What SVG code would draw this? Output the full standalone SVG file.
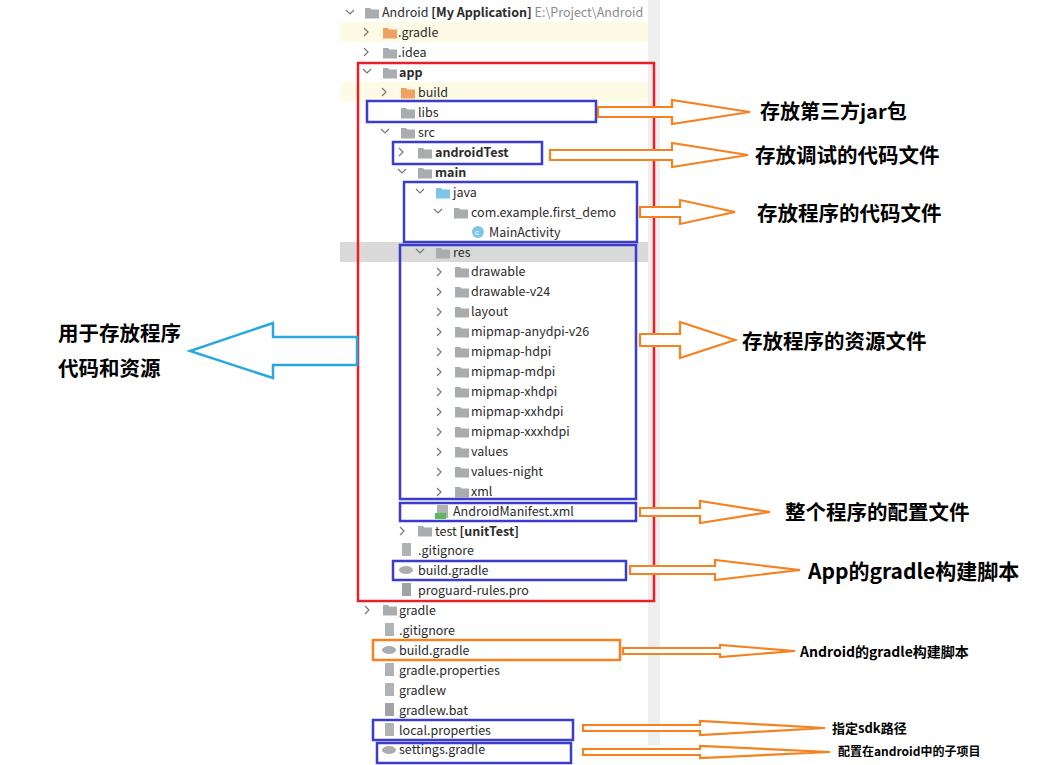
<svg xmlns="http://www.w3.org/2000/svg" xmlns:xlink="http://www.w3.org/1999/xlink" width="1057" height="765" viewBox="0 0 1057 765">
<style>
.t{font-family:"Noto Sans CJK SC","Noto Sans",sans-serif;font-size:12.5px;fill:#2b2b2b}
.b{font-weight:bold}
.g{fill:#8c8c8c}
.lab{font-family:"Noto Sans CJK SC",sans-serif;font-weight:bold;fill:#000}
.ch{fill:none;stroke:#777;stroke-width:1.2}
.blue{fill:none;stroke:#3b3bcc;stroke-width:2.5}
.oa{fill:#fff;stroke:#f5821f;stroke-width:2.2}
</style>
<defs>
<g id="f"><path d="M0,-5 h5 l1.5,1.5 h7.5 v9 h-14z" fill="#a9adb0"/></g>
<g id="fo"><path d="M0,-5 h5 l1.5,1.5 h7.5 v9 h-14z" fill="#f0a060"/></g>
<g id="fb"><path d="M0,-5 h5 l1.5,1.5 h7.5 v9 h-14z" fill="#7cc6e8"/></g>
<path id="cr" d="M-3,-4 l4,4 l-4,4" class="ch"/>
<path id="cd" d="M-4,-2 l4,4 l4,-4" class="ch"/>
</defs>
<rect width="1057" height="765" fill="#fff"/>
<rect x="340" y="22" width="315" height="20" fill="#fdfbe5"/>
<rect x="340" y="82" width="315" height="20" fill="#fdfbe5"/>
<rect x="340" y="242" width="315" height="20" fill="#d9d9d9"/>
<rect x="648" y="0" width="12" height="745" fill="#eeeeee"/>
<g id="tree">
<use href="#cd" x="350" y="12"/><use href="#f" x="365" y="13"/><text class="t" x="382" y="17">Android <tspan class="b">[My Application]</tspan> <tspan class="g">E:\Project\Android</tspan></text>
<use href="#cr" x="367" y="32"/><use href="#fo" x="383" y="33"/><text class="t" x="398" y="37">.gradle</text>
<use href="#cr" x="367" y="52"/><use href="#f" x="383" y="53"/><text class="t" x="398" y="57">.idea</text>
<use href="#cd" x="367" y="71"/><use href="#f" x="383" y="73"/><text class="t b" x="399" y="77">app</text>
<use href="#cr" x="385" y="92"/><use href="#fo" x="401" y="93"/><text class="t" x="418" y="97">build</text>
<use href="#f" x="401" y="113"/><text class="t" x="418" y="117">libs</text>
<use href="#cd" x="385" y="131"/><use href="#f" x="401" y="133"/><text class="t" x="418" y="137">src</text>
<use href="#cr" x="402" y="152"/><use href="#f" x="418" y="153"/><text class="t b" x="435" y="157">androidTest</text>
<use href="#cd" x="402" y="171"/><use href="#f" x="418" y="173"/><text class="t b" x="435" y="177">main</text>
<use href="#cd" x="420" y="191"/><use href="#fb" x="436" y="193"/><text class="t" x="453" y="197">java</text>
<use href="#cd" x="438" y="211"/><use href="#f" x="454" y="213"/><text class="t" x="471" y="217">com.example.first_demo</text>
<circle cx="478" cy="232" r="6" fill="#7cc6e8"/><text x="475" y="235" font-family="Liberation Sans" font-size="8" fill="#fff">c</text><text class="t" x="489" y="237">MainActivity</text>
<use href="#cd" x="420" y="251"/><use href="#f" x="436" y="253"/><text class="t" x="453" y="257">res</text>
<g>
<use href="#cr" x="440" y="272"/><use href="#f" x="455" y="272"/><text class="t" x="471" y="276">drawable</text>
<use href="#cr" x="440" y="292"/><use href="#f" x="455" y="292"/><text class="t" x="471" y="296">drawable-v24</text>
<use href="#cr" x="440" y="312"/><use href="#f" x="455" y="312"/><text class="t" x="471" y="316">layout</text>
<use href="#cr" x="440" y="332"/><use href="#f" x="455" y="332"/><text class="t" x="471" y="336">mipmap-anydpi-v26</text>
<use href="#cr" x="440" y="352"/><use href="#f" x="455" y="352"/><text class="t" x="471" y="356">mipmap-hdpi</text>
<use href="#cr" x="440" y="372"/><use href="#f" x="455" y="372"/><text class="t" x="471" y="376">mipmap-mdpi</text>
<use href="#cr" x="440" y="392"/><use href="#f" x="455" y="392"/><text class="t" x="471" y="396">mipmap-xhdpi</text>
<use href="#cr" x="440" y="412"/><use href="#f" x="455" y="412"/><text class="t" x="471" y="416">mipmap-xxhdpi</text>
<use href="#cr" x="440" y="432"/><use href="#f" x="455" y="432"/><text class="t" x="471" y="436">mipmap-xxxhdpi</text>
<use href="#cr" x="440" y="452"/><use href="#f" x="455" y="452"/><text class="t" x="471" y="456">values</text>
<use href="#cr" x="440" y="472"/><use href="#f" x="455" y="472"/><text class="t" x="471" y="476">values-night</text>
<use href="#cr" x="440" y="492"/><use href="#f" x="455" y="492"/><text class="t" x="471" y="496">xml</text>
</g>
<rect x="437" y="505" width="11" height="13" fill="#b0b3b5"/><rect x="435" y="513" width="11" height="6" fill="#5cb85c"/><text class="t" x="453" y="516">AndroidManifest.xml</text>
<use href="#cr" x="403" y="531"/><use href="#f" x="418" y="531"/><text class="t" x="435" y="536">test <tspan class="b">[unitTest]</tspan></text>
<rect x="402" y="543" width="9" height="13" fill="#b0b3b5"/><text class="t" x="418" y="555">.gitignore</text>
<ellipse cx="406" cy="570" rx="7" ry="4" fill="#a9adb0"/><text class="t" x="418" y="575">build.gradle</text>
<rect x="402" y="583" width="9" height="13" fill="#a0a3a6"/><text class="t" x="418" y="595">proguard-rules.pro</text>
<use href="#cr" x="368" y="610"/><use href="#f" x="383" y="610"/><text class="t" x="399" y="615">gradle</text>
<rect x="385" y="623" width="9" height="13" fill="#b0b3b5"/><text class="t" x="399" y="635">.gitignore</text>
<ellipse cx="389" cy="650" rx="7" ry="4" fill="#a9adb0"/><text class="t" x="399" y="655">build.gradle</text>
<rect x="385" y="663" width="9" height="13" fill="#b0b3b5"/><text class="t" x="399" y="675">gradle.properties</text>
<rect x="385" y="683" width="9" height="13" fill="#b0b3b5"/><text class="t" x="399" y="695">gradlew</text>
<rect x="385" y="703" width="9" height="13" fill="#a0a3a6"/><text class="t" x="399" y="715">gradlew.bat</text>
<rect x="385" y="723" width="9" height="13" fill="#b0b3b5"/><text class="t" x="399" y="735">local.properties</text>
<ellipse cx="389" cy="750" rx="7" ry="4" fill="#a9adb0"/><text class="t" x="399" y="754">settings.gradle</text>
</g>
<g id="boxes">
<rect x="358" y="63" width="296" height="538" fill="none" stroke="#e8202a" stroke-width="2.5"/>
<rect class="blue" x="367" y="101" width="229" height="21"/>
<rect class="blue" x="393" y="142" width="149" height="22"/>
<rect class="blue" x="404" y="182" width="233" height="60"/>
<rect class="blue" x="400" y="245" width="236" height="254"/>
<rect class="blue" x="400" y="503" width="236" height="18"/>
<rect class="blue" x="393" y="561" width="233" height="19"/>
<rect x="373" y="640" width="247" height="20" fill="none" stroke="#f5821f" stroke-width="2.5"/>
<rect class="blue" x="373" y="720" width="200" height="20"/>
<rect class="blue" x="377" y="743" width="194" height="20"/>
</g>
<g id="connectors">
<path class="oa" d="M598,107 H672 V100 L750,112 L672,124 V117 H598Z"/>
<path class="oa" d="M550,150 H672 V143 L748,155 L672,167 V160 H550Z"/>
<path class="oa" d="M640,207 H680 V200 L735,212 L680,224 V217 H640Z"/>
<path class="oa" d="M640,334 H680 V322 L735,340 L680,358 V346 H640Z"/>
<path class="oa" d="M640,508 H700 V501 L770,512 L700,523 V516 H640Z"/>
<path class="oa" d="M630,566 H715 V560 L800,570 L715,580 V574 H630Z"/>
<path class="oa" d="M623,648 H720 V645 L795,651 L720,657 V654 H623Z"/>
<path class="oa" d="M583,725 H700 V721 L825,728 L700,735 V731 H583Z"/>
<path class="oa" d="M583,749 H700 V746 L830,752 L700,758 V755 H583Z"/>
<path d="M357,337 H273 V323 L190,351 L273,378 V365 H357Z" fill="#fff" stroke="#29a8e0" stroke-width="2.5"/>
</g>
<g id="labels">
<text class="lab" x="760" y="119" font-size="20">存放第三方jar包</text>
<text class="lab" x="755" y="163" font-size="20.5">存放调试的代码文件</text>
<text class="lab" x="757" y="221" font-size="20.5">存放程序的代码文件</text>
<text class="lab" x="742" y="349" font-size="20.5">存放程序的资源文件</text>
<text class="lab" x="785" y="520" font-size="20.5">整个程序的配置文件</text>
<text class="lab" x="808" y="579" font-size="21">App的gradle构建脚本</text>
<text class="lab" x="800" y="657" font-size="14">Android的gradle构建脚本</text>
<text class="lab" x="832" y="733" font-size="13">指定sdk路径</text>
<text class="lab" x="838" y="756" font-size="12">配置在android中的子项目</text>
<text class="lab" x="58" y="341" font-size="20.5">用于存放程序</text>
<text class="lab" x="58" y="376" font-size="20.5">代码和资源</text>
</g>
</svg>
